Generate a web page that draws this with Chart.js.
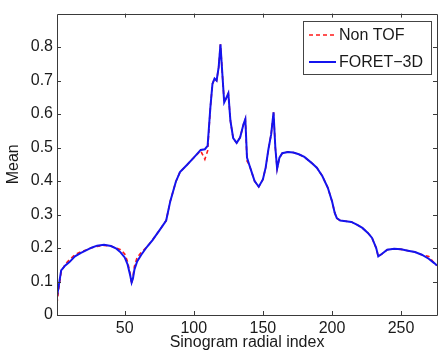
<!DOCTYPE html>
<html>
<head>
<meta charset="utf-8">
<script src="https://cdn.jsdelivr.net/npm/chart.js@4"></script>
<style>
html,body{margin:0;padding:0;background:#fff;}
#wrap{width:438px;height:353px;}
</style>
</head>
<body>
<div id="wrap"><canvas id="c" width="438" height="353"></canvas></div>
<script>
const xs = [1,2,4,7,10,14,18,22,26,30,35,40,44,47,50,52,54,55,56,57,59,62,66,70,75,80,83,87,90,95,100,105,108,110,112,113.5,115,116.5,118,119.3,120.5,122,123.5,125,126.5,128.5,131,133.5,136,137.3,138.5,140,142,144,147,150,152,154,156,157.7,159,160.3,162,164,168,172,176,180,185,189,193,197,200,202,203.5,206,210,214,218,222,226,229,232,233.5,236,240,245,250,255,260,265,270,274,276];
const foret3d = [0.055,0.08,0.133,0.148,0.158,0.175,0.185,0.193,0.201,0.207,0.21,0.206,0.198,0.187,0.172,0.152,0.118,0.097,0.11,0.135,0.16,0.18,0.203,0.223,0.252,0.282,0.34,0.398,0.427,0.448,0.47,0.493,0.495,0.505,0.62,0.69,0.706,0.7,0.74,0.808,0.73,0.635,0.648,0.662,0.58,0.528,0.514,0.53,0.57,0.585,0.47,0.45,0.425,0.4,0.383,0.405,0.44,0.495,0.54,0.605,0.5,0.437,0.47,0.483,0.487,0.485,0.48,0.472,0.455,0.44,0.415,0.38,0.34,0.305,0.289,0.282,0.28,0.278,0.27,0.26,0.245,0.23,0.2,0.175,0.182,0.195,0.198,0.196,0.192,0.188,0.18,0.168,0.155,0.148];
const nonTof = [0.035,0.07,0.128,0.152,0.165,0.18,0.188,0.194,0.201,0.205,0.208,0.206,0.2,0.195,0.182,0.16,0.122,0.093,0.115,0.145,0.172,0.187,0.203,0.223,0.252,0.282,0.34,0.398,0.427,0.448,0.47,0.49,0.465,0.49,0.62,0.69,0.706,0.7,0.74,0.808,0.73,0.635,0.648,0.662,0.58,0.528,0.514,0.53,0.57,0.585,0.46,0.45,0.425,0.4,0.383,0.405,0.44,0.495,0.54,0.605,0.5,0.437,0.47,0.483,0.487,0.485,0.48,0.472,0.455,0.44,0.415,0.38,0.34,0.305,0.289,0.282,0.28,0.278,0.27,0.26,0.245,0.23,0.2,0.175,0.182,0.195,0.198,0.196,0.192,0.188,0.18,0.175,0.155,0.148];
const xTicks = [50,100,150,200,250];
const yTicks = [0,0.1,0.2,0.3,0.4,0.5,0.6,0.7,0.8];
const seriesNames = ['Non TOF','FORET\u22123D'];

const FONT = '"Liberation Sans", Arial, Helvetica, sans-serif';
const AX = '#3a3a3a';

const boxPlugin = {
  id: 'box',
  afterDatasetsDraw(chart) {
    const {ctx, chartArea: a, scales: {x, y}} = chart;
    ctx.save();
    ctx.strokeStyle = AX;
    ctx.lineWidth = 1;
    ctx.beginPath();
    ctx.rect(Math.round(a.left) + 0.5, Math.round(a.top) + 0.5, Math.round(a.right - a.left), Math.round(a.bottom - a.top));
    ctx.stroke();
    const t = 4;
    ctx.beginPath();
    x.ticks.forEach(tk => {
      const px = Math.round(x.getPixelForValue(tk.value)) + 0.5;
      ctx.moveTo(px, a.bottom); ctx.lineTo(px, a.bottom - t);
      ctx.moveTo(px, a.top); ctx.lineTo(px, a.top + t);
    });
    y.ticks.forEach(tk => {
      const py = Math.round(y.getPixelForValue(tk.value)) + 0.5;
      ctx.moveTo(a.left, py); ctx.lineTo(a.left + t, py);
      ctx.moveTo(a.right, py); ctx.lineTo(a.right - t, py);
    });
    ctx.stroke();

    // legend
    const lx = 303.5, ly = 21.5, lw = 128, lh = 53;
    ctx.fillStyle = '#fff';
    ctx.fillRect(lx, ly, lw, lh);
    ctx.strokeStyle = '#444';
    ctx.strokeRect(lx, ly, lw, lh);
    const rows = [35, 62];
    chart.data.datasets.forEach((ds, i) => {
      ctx.beginPath();
      ctx.strokeStyle = ds.borderColor;
      ctx.lineWidth = ds.borderWidth;
      ctx.setLineDash(ds.borderDash || []);
      ctx.moveTo(309, rows[i]); ctx.lineTo(336, rows[i]);
      ctx.stroke();
      ctx.setLineDash([]);
      ctx.fillStyle = '#1a1a1a';
      ctx.font = '16px ' + FONT;
      ctx.textBaseline = 'middle';
      ctx.textAlign = 'left';
      ctx.fillText(ds.label, 339, rows[i] + 1);
    });
    ctx.restore();
  }
};

new Chart(document.getElementById('c'), {
  type: 'line',
  data: {
    labels: xs,
    datasets: [
      { label: seriesNames[0], data: xs.map((v, i) => ({x: v, y: nonTof[i]})), borderColor: '#ff1a1a', borderWidth: 1.6, borderDash: [4, 3], pointRadius: 0, tension: 0, order: 2 },
      { label: seriesNames[1], data: xs.map((v, i) => ({x: v, y: foret3d[i]})), borderColor: '#1414ee', borderWidth: 2, pointRadius: 0, tension: 0, order: 1 }
    ]
  },
  options: {
    responsive: false,
    animation: false,
    devicePixelRatio: 1,
    layout: { padding: { top: 11, right: 1, left: 0, bottom: 0 } },
    plugins: { legend: { display: false }, tooltip: { enabled: false } },
    scales: {
      x: {
        type: 'linear', min: 1, max: 276,
        afterBuildTicks: s => { s.ticks = xTicks.map(v => ({value: v})); },
        afterFit: s => { s.height = 38; },
        grid: { display: false, drawTicks: false },
        border: { display: false },
        ticks: { padding: 4, color: '#1a1a1a', font: { size: 16, family: FONT }, maxRotation: 0, autoSkip: false },
        title: { display: true, text: 'Sinogram radial index', color: '#1a1a1a', font: { size: 16, family: FONT }, padding: { top: 0, bottom: 1 } }
      },
      y: {
        type: 'linear', min: 0, max: 0.9,
        afterBuildTicks: s => { s.ticks = yTicks.map(v => ({value: v})); },
        afterFit: s => { s.width = 57; },
        grid: { display: false, drawTicks: false },
        border: { display: false },
        ticks: { padding: 4, color: '#1a1a1a', font: { size: 16, family: FONT }, callback: v => (v === 0 ? '0' : v.toFixed(1)) },
        title: { display: true, text: 'Mean', color: '#1a1a1a', font: { size: 16, family: FONT }, padding: { top: 4, bottom: 0 } }
      }
    }
  },
  plugins: [boxPlugin]
});
</script>
</body>
</html>
